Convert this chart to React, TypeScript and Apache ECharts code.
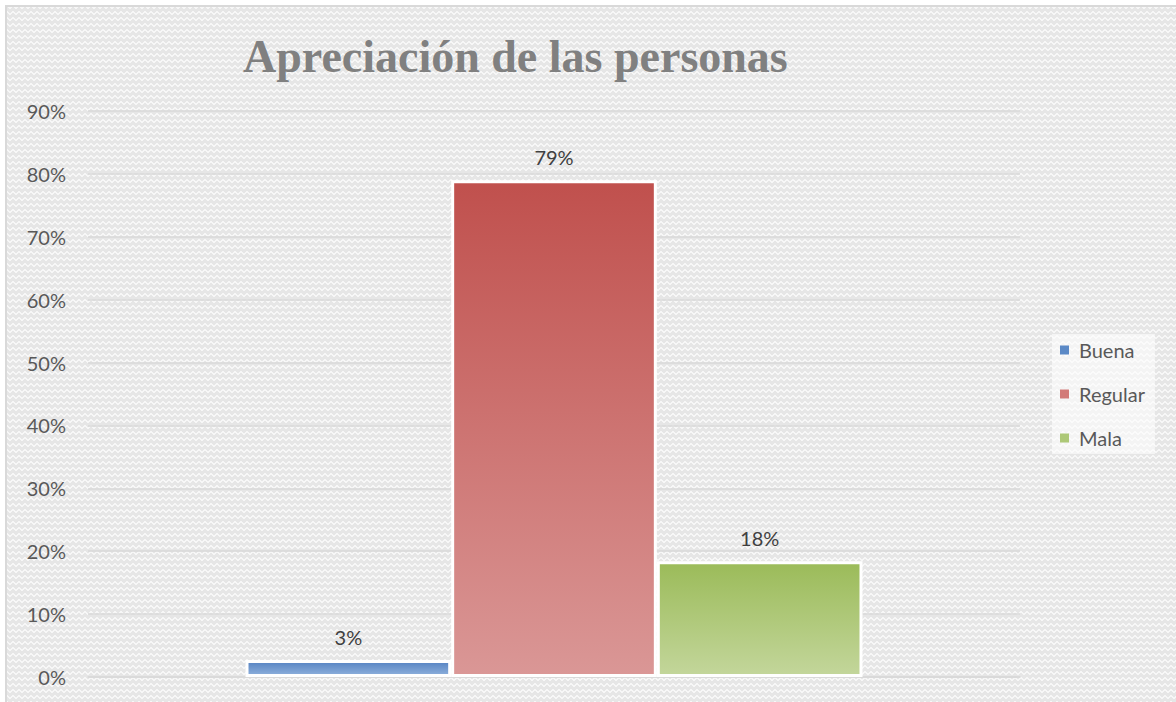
import React, { useEffect, useRef } from "react";
import * as echarts from "echarts";

const categories = ["Apreciación"];
const seriesNames = ["Buena", "Regular", "Mala"];
const seriesValues = [2.7, 79.0, 18.4];
const seriesColors = [
  ["#5683c2", "#8eb0dc"],
  ["#c0504d", "#da9796"],
  ["#9bbb59", "#c3d69b"],
];
const legendColors = ["#5b89c6", "#d27a78", "#adc877"];
const yTicks = { min: 0, max: 90, interval: 10 };

export default function App() {
  const ref = useRef<HTMLDivElement>(null);
  useEffect(() => {
    if (!ref.current) return;
    const chart = echarts.init(ref.current, undefined, { renderer: "svg" });
    chart.setOption({
      animation: false,
      backgroundColor: "transparent",
      title: {
        text: "Apreciación de las personas",
        left: 238,
        top: 28,
        textStyle: {
          fontFamily: "Liberation Serif",
          fontWeight: "bold",
          fontSize: 46,
          color: "#808080",
        },
      },
      grid: { left: 88, right: 156, top: 111, bottom: 25 },
      legend: {
        orient: "vertical",
        left: 1052,
        top: 334,
        itemWidth: 9,
        itemHeight: 9,
        itemGap: 24,
        padding: [6, 10, 6, 8],
        backgroundColor: "rgba(255,255,255,0.55)",
        textStyle: {
          fontFamily: "Lato",
          fontSize: 20,
          color: "#595959",
          padding: [0, 0, 0, 5],
        },
        data: seriesNames.map((n, i) => ({
          name: n,
          icon: "rect",
          itemStyle: { color: legendColors[i], borderWidth: 0 },
        })),
      },
      xAxis: {
        type: "category",
        data: categories,
        axisLabel: { show: false },
        axisTick: { show: false },
        axisLine: { lineStyle: { color: "#d9d9d9", width: 1.5 } },
      },
      yAxis: {
        type: "value",
        min: yTicks.min,
        max: yTicks.max,
        interval: yTicks.interval,
        axisLabel: {
          formatter: "{value}%",
          fontFamily: "Lato",
          fontSize: 20,
          color: "#595959",
          margin: 22,
        },
        axisLine: { show: false },
        axisTick: { show: false },
        splitLine: { lineStyle: { color: "#d9d9d9", width: 1.5 } },
      },
      series: seriesNames.map((n, i) => ({
        name: n,
        type: "bar",
        data: [seriesValues[i]],
        barGap: "0%",
        barCategoryGap: "33.8%",
        itemStyle: {
          color: new echarts.graphic.LinearGradient(0, 0, 0, 1, [
            { offset: 0, color: seriesColors[i][0] },
            { offset: 1, color: seriesColors[i][1] },
          ]),
          borderColor: "#ffffff",
          borderWidth: 3,
        },
        label: {
          show: true,
          position: "top",
          distance: 13,
          formatter: (p: any) => Math.round(p.value) + "%",
          fontFamily: "Lato",
          fontSize: 20,
          color: "#404040",
        },
      })),
    });
    return () => chart.dispose();
  }, []);

  const pattern =
    "linear-gradient(135deg, #f7f7f7 25%, transparent 25%) -3px 0, " +
    "linear-gradient(225deg, #f7f7f7 25%, transparent 25%) -3px 0, " +
    "linear-gradient(315deg, #f7f7f7 25%, transparent 25%), " +
    "linear-gradient(45deg, #f7f7f7 25%, transparent 25%)";

  return (
    <div
      style={{
        position: "fixed",
        left: 0,
        top: 0,
        width: 1176,
        height: 702,
        background: "#ffffff",
        overflow: "hidden",
      }}
    >
      <div
        style={{
          position: "absolute",
          left: 5,
          top: 5,
          width: 1200,
          height: 720,
          border: "2px solid #d9d9d9",
          background: pattern,
          backgroundSize: "6px 6px",
          backgroundColor: "#e6e6e6",
        }}
      />
      <div
        ref={ref}
        style={{ position: "absolute", left: 0, top: 0, width: 1176, height: 702 }}
      />
    </div>
  );
}
